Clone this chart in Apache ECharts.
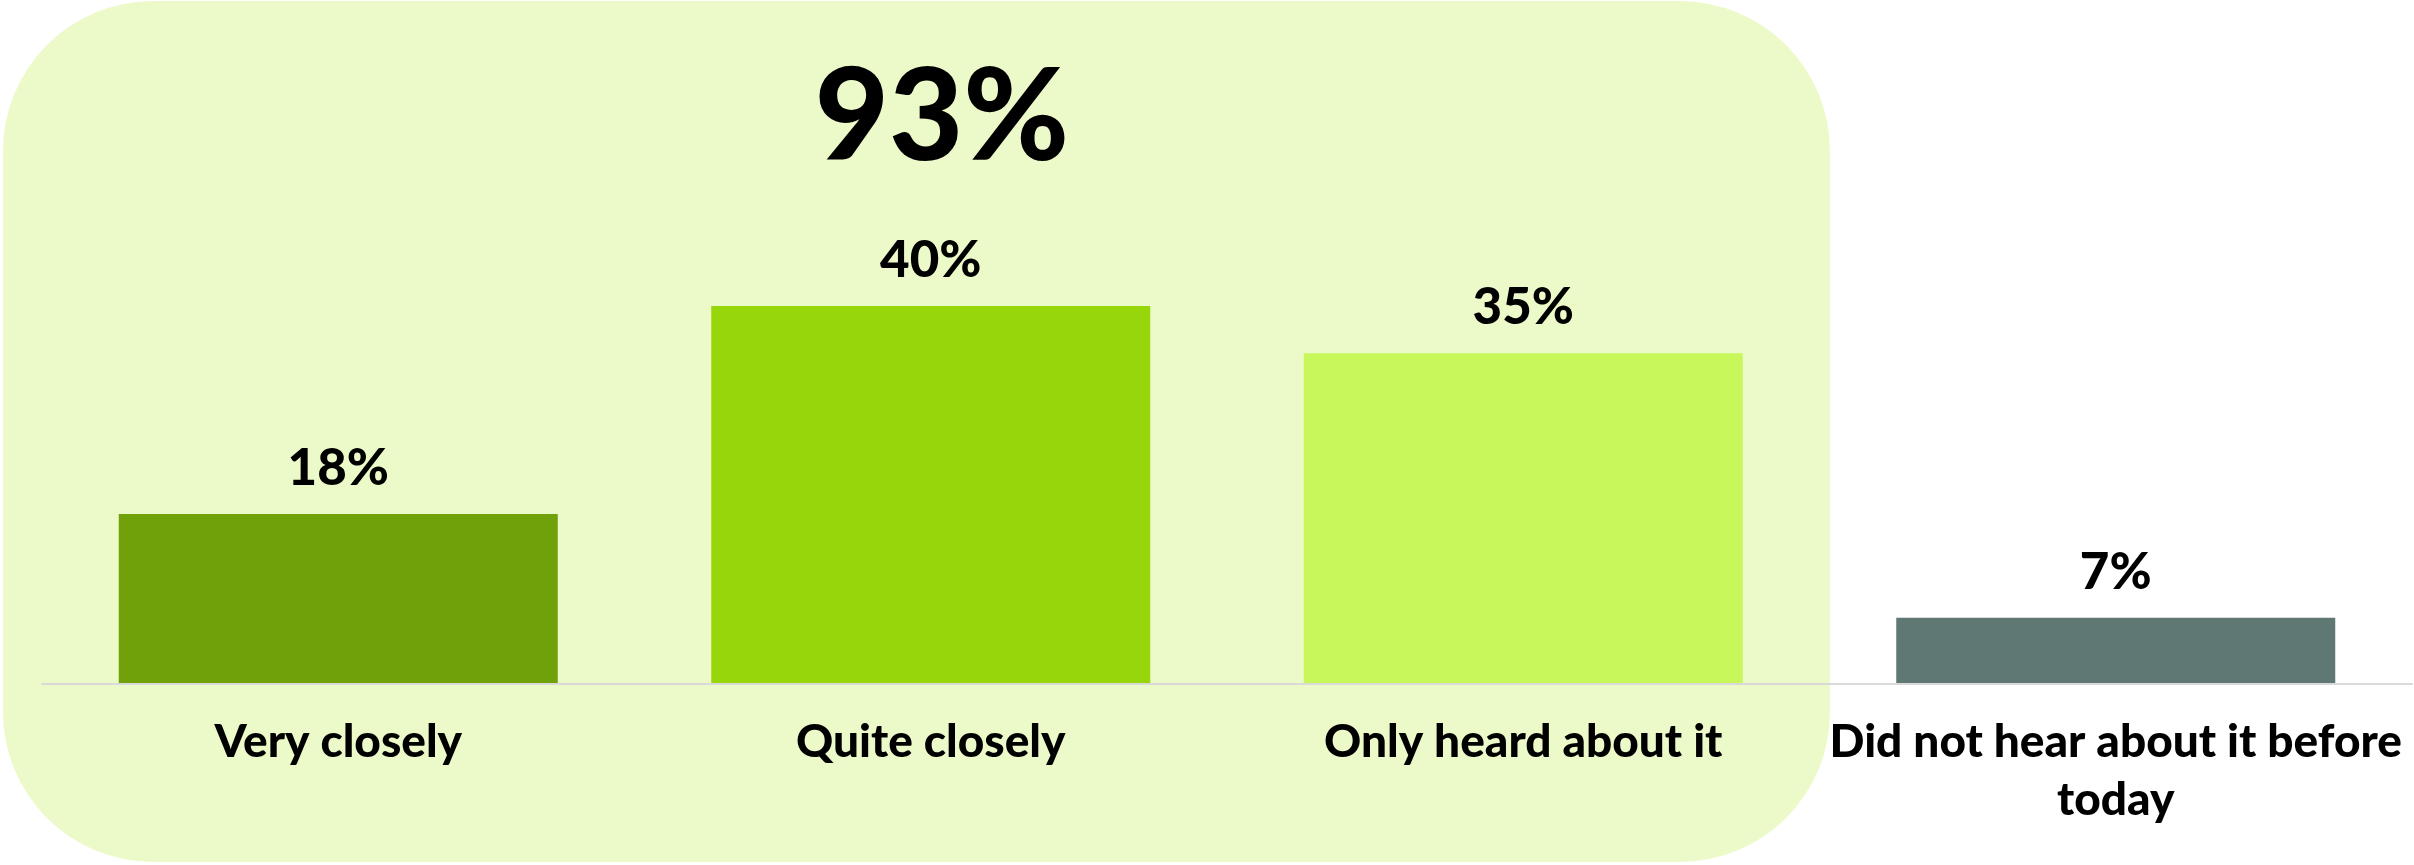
<!DOCTYPE html>
<html>
<head>
<meta charset="utf-8">
<script src="https://cdn.jsdelivr.net/npm/echarts@6/dist/echarts.min.js"></script>
<style>
html,body{margin:0;padding:0;background:#fff;}
#chart{width:2414px;height:865px;}
</style>
</head>
<body>
<div id="chart"></div>
<script>
const categories = ['Very closely', 'Quite closely', 'Only heard about it', 'Did not hear about it before\ntoday'];
const values = [18, 40, 35, 7];
const barColors = ['#70A00A', '#97D60A', '#C7F75B', '#5F7874'];
const totalLabel = '93%';

const FONT = 'Lato';
const chart = echarts.init(document.getElementById('chart'));
chart.setOption({
  backgroundColor: '#ffffff',
  animation: false,
  graphic: [
    {
      type: 'rect', z: -10, silent: true,
      shape: { x: 3, y: 1, width: 1827, height: 861, r: 150 },
      style: { fill: '#ECFAC9' }
    },
    {
      type: 'text', z: 10, silent: true,
      x: 942, y: 119,
      style: {
        text: totalLabel, fill: '#000', font: '900 128px ' + FONT,
        align: 'center', verticalAlign: 'middle'
      }
    }
  ],
  grid: { left: 42, right: 2, top: 117, bottom: 181, containLabel: false },
  xAxis: {
    type: 'category',
    data: categories,
    z: 5,
    axisLine: { show: true, lineStyle: { color: '#D9D9D9', width: 2 } },
    axisTick: { show: false },
    axisLabel: {
      interval: 0, margin: 29, color: '#000',
      fontFamily: FONT, fontWeight: 900, fontSize: 46, lineHeight: 58
    }
  },
  yAxis: { type: 'value', min: 0, max: 60, show: false, splitLine: { show: false } },
  series: [{
    type: 'bar',
    data: values.map((v, i) => ({ value: v, itemStyle: { color: barColors[i] } })),
    barWidth: 439,
    label: {
      show: true, position: 'top', distance: 20,
      formatter: p => p.value + '%',
      color: '#000', fontFamily: FONT, fontWeight: 900, fontSize: 51, lineHeight: 51
    }
  }]
});
</script>
</body>
</html>
